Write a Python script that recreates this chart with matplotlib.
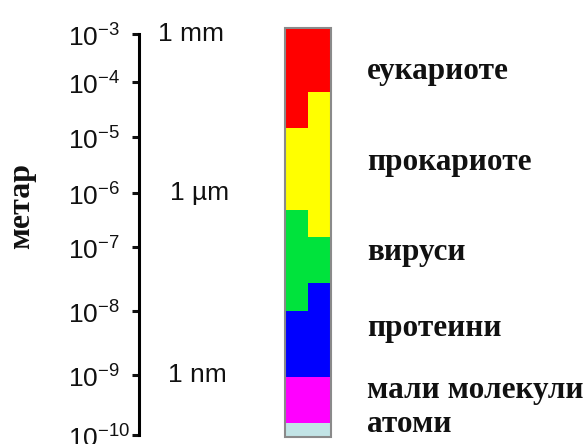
import numpy as np
import matplotlib.pyplot as plt

plt.rcParams['font.family'] = 'Liberation Sans'
plt.rcParams['mathtext.fontset'] = 'custom'
plt.rcParams['mathtext.rm'] = 'Liberation Sans'

# ruler decades (log10 of metres) and the unit marks
decades = [-3, -4, -5, -6, -7, -8, -9, -10]
unit_marks = [1e-3, 1e-6, 1e-9]
unit_labels = ['1 mm', '1 µm', '1 nm']

groups = ['еукариоте', 'прокариоте', 'вируси', 'протеини', 'мали молекули', 'атоми']
colours = ['#ff0000', '#ffff00', '#00e33c', '#0000ff', '#ff00ff', '#c2e4e6']

# size range of each group in metres, left and right half of the bar
# (edges go top -> bottom, group i spans edges[i] .. edges[i+1])
left_edges = [1.33e-3, 1.45e-5, 4.9e-7, 1.0e-8, 9.3e-10, 1.6e-10, 9.3e-11]
right_edges = [1.33e-3, 6.6e-5, 1.5e-7, 2.75e-8, 9.3e-10, 1.6e-10, 9.3e-11]

# the original ruler is not evenly spaced, so warp log10 a bit
ruler_e = np.array([-11, -10, -9, -8, -7, -6, -5, -4, -3, -2])
ruler_w = np.array([-60, 0, 60, 124, 188, 242, 298, 353, 401, 449])


def fwd(y):
    y = np.clip(np.asarray(y, dtype=float), 1e-30, None)
    return np.interp(np.log10(y), ruler_e, ruler_w)


def inv(w):
    return 10 ** np.interp(w, ruler_w, ruler_e)


fig = plt.figure(figsize=(5.88, 4.44), dpi=100)
ax = fig.add_axes([139 / 588, 9 / 444, 449 / 588, 401 / 444])
ax.set_yscale('function', functions=(fwd, inv))
ax.set_ylim(1e-10, 1e-3)
ax.set_xlim(0, 449)

for sp in ['top', 'right', 'bottom']:
    ax.spines[sp].set_visible(False)
ax.spines['left'].set_linewidth(2.2)
ax.set_xticks([])

ax.set_yticks([10.0 ** d for d in decades])
ax.set_yticklabels(['$10^{%d}$' % d for d in decades])
ax.set_yticks(unit_marks[:2], minor=True)
ax.tick_params(axis='y', which='major', direction='out', length=5, width=2.2,
               pad=46, labelsize=19, colors='#111111')
ax.tick_params(axis='y', which='minor', direction='in', length=7, width=2.2,
               labelleft=False, colors='#111111')
for lab in ax.get_yticklabels():
    lab.set_ha('left')

unit_x = [19, 31, 29]
for y, txt, x in zip(unit_marks, unit_labels, unit_x):
    ax.text(x, y, txt, fontsize=19, va='center', ha='left', color='#111111')

# colour bar, two halves
for i in range(len(groups)):
    ax.bar(146, left_edges[i] - left_edges[i + 1], bottom=left_edges[i + 1],
           width=23, align='edge', color=colours[i], clip_on=False)
    ax.bar(169, right_edges[i] - right_edges[i + 1], bottom=right_edges[i + 1],
           width=23, align='edge', color=colours[i], clip_on=False)
ax.bar(146, left_edges[0] - left_edges[-1], bottom=left_edges[-1], width=46,
       align='edge', fill=False, edgecolor='#8a8a8a', linewidth=1.5, clip_on=False)

label_y = [10 ** -3.79, 10 ** -5.46, 10 ** -7.09, 10 ** -8.27, 10 ** -9.25, 10 ** -9.83]
for y, g in zip(label_y, groups):
    ax.text(228, y, g, family='Liberation Serif', fontweight='bold', fontsize=22.5,
            va='center', ha='left', color='#111111', clip_on=False)

fig.text(22 / 588, 1 - 206 / 444, 'метар', family='Liberation Serif',
         fontweight='bold', fontsize=23, rotation=90, va='center', ha='center',
         color='#111111')

fig.savefig('out.png', dpi=100)
